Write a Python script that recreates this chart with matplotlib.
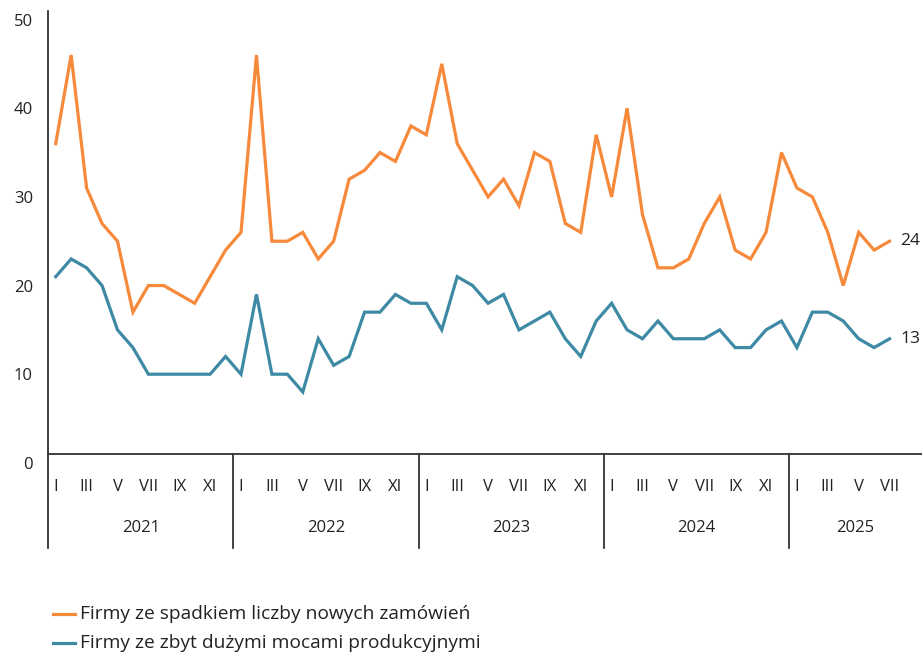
import numpy as np
import matplotlib.pyplot as plt
from matplotlib.lines import Line2D

plt.rcParams['font.family'] = ['Open Sans', 'DejaVu Sans']

# miesiące I.2021 - VII.2025
zamowienia = [35, 45, 30, 26, 24, 16, 19, 19, 18, 17, 20, 23,
              25, 45, 24, 24, 25, 22, 24, 31, 32, 34, 33, 37,
              36, 44, 35, 32, 29, 31, 28, 34, 33, 26, 25, 36,
              29, 39, 27, 21, 21, 22, 26, 29, 23, 22, 25, 34,
              30, 29, 25, 19, 25, 23, 24]
moce = [20, 22, 21, 19, 14, 12, 9, 9, 9, 9, 9, 11,
        9, 18, 9, 9, 7, 13, 10, 11, 16, 16, 18, 17,
        17, 14, 20, 19, 17, 18, 14, 15, 16, 13, 11, 15,
        17, 14, 13, 15, 13, 13, 13, 14, 12, 12, 14, 15,
        12, 16, 16, 15, 13, 12, 13]
lata = ['2021', '2022', '2023', '2024', '2025']
miesiace = ['I', 'III', 'V', 'VII', 'IX', 'XI']
etykiety_y = [0, 10, 20, 30, 40, 50]

kolor_or = '#F7893B'
kolor_bl = '#3E8AA4'
kolor_os = '#333333'
kolor_txt = '#222222'

x = np.arange(len(zamowienia))
xmax = 56.1

fig = plt.figure(figsize=(9.22, 6.54), dpi=100)
ax = fig.add_axes([48 / 922, 200 / 654, 1 - 48 / 922, 443.3 / 654])

ax.plot(x, zamowienia, color=kolor_or, lw=2.3, solid_joinstyle='miter')
ax.plot(x, moce, color=kolor_bl, lw=2.3, solid_joinstyle='miter')

ax.set_xlim(-0.5, xmax)
ax.set_ylim(0, 50)

for s in ['top', 'right']:
    ax.spines[s].set_visible(False)
for s in ['left', 'bottom']:
    ax.spines[s].set_color(kolor_os)
    ax.spines[s].set_linewidth(1.3)
ax.set_xticks([])
ax.set_yticks([])

# opisy osi Y (lekko pod wartością)
for v in etykiety_y:
    ax.annotate(str(v), xy=(0, v), xycoords=('axes fraction', 'data'),
                xytext=(-15, -3), textcoords='offset pixels',
                ha='right', va='top', fontsize=12, color=kolor_txt)

# podziałki lat i opisy miesięcy
trans = ax.get_xaxis_transform()
dol = -0.212
for k, rok in enumerate(lata):
    start = k * 12 - 0.5
    ax.plot([start, start], [0, dol], transform=trans, color=kolor_os,
            lw=1.3, clip_on=False)
    koniec = min(start + 12, xmax)
    ax.text((start + koniec) / 2, -0.166, rok, transform=trans,
            ha='center', va='center', fontsize=12, color=kolor_txt)
    for j, m in enumerate(miesiace):
        idx = k * 12 + j * 2
        if idx < len(zamowienia):
            ax.text(idx, -0.074, m, transform=trans, ha='center',
                    va='center', fontsize=12, color=kolor_txt)

# wartości na końcu serii
ax.annotate(str(zamowienia[-1]), xy=(x[-1], zamowienia[-1]),
            xytext=(11, 0), textcoords='offset pixels',
            ha='left', va='center', fontsize=12.5, color=kolor_txt)
ax.annotate(str(moce[-1]), xy=(x[-1], moce[-1]),
            xytext=(11, 0), textcoords='offset pixels',
            ha='left', va='center', fontsize=12.5, color=kolor_txt)

# legenda
for yy, kol, txt in [(614, kolor_or, 'Firmy ze spadkiem liczby nowych zamówień'),
                     (643, kolor_bl, 'Firmy ze zbyt dużymi mocami produkcyjnymi')]:
    fy = 1 - yy / 654
    fig.add_artist(Line2D([53 / 922, 75 / 922], [fy, fy], color=kol, lw=2.3))
    fig.text(80 / 922, fy, txt, ha='left', va='center', fontsize=13.8,
             color=kolor_txt)

fig.savefig('out.png', dpi=100)
